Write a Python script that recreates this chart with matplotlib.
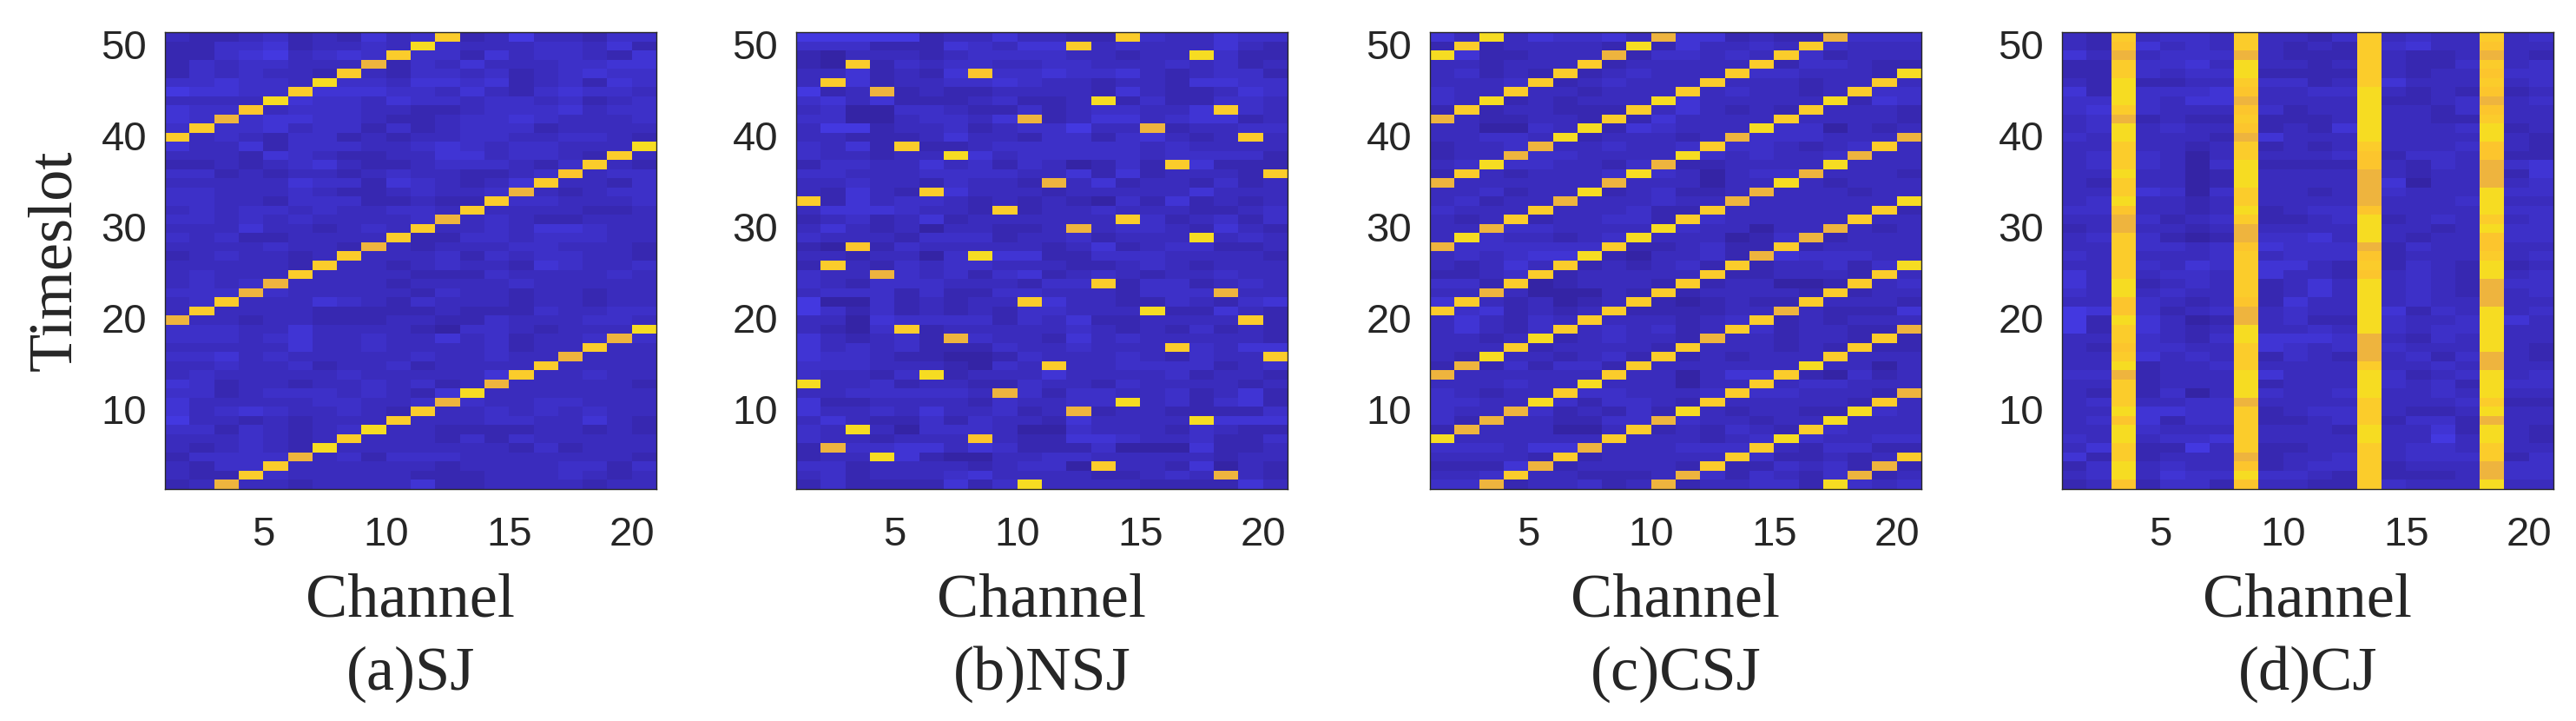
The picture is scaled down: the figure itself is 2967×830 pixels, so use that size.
import matplotlib
matplotlib.use('Agg')
import matplotlib.pyplot as plt
import numpy as np
from matplotlib.colors import LinearSegmentedColormap
from matplotlib.transforms import ScaledTranslation

# rows go top to bottom as in the picture, one char per channel
# 0-9 background level, a-d jammed cell (a orange ... d yellow)
sj_rows = [
    "32234232534c23633244", "2244523343d433344352", "224563454c4425344325", "24344333a24353334455",
    "2434332c324434234544", "445443d4435545234254", "65544c55544353245443", "3333d544354434434234",
    "544b3444332234445344", "54a45544322344543334", "4c445344242344423333", "c3432442323344334432",
    "5335244433454344333d", "333254322335534432c3", "22323453223444324c32", "4423233234332234b344",
    "333335442543235c3324", "44333432234334a32344", "4433244422322c443334", "343443433443c3333223",
    "44343433334a34322333", "3335332343c334355433", "434223333c2244344433", "33334332a32333443332",
    "2343323c333424344332", "333332c3323433254334", "34333c33332224333343", "3434a333323333433333",
    "444a4333332433233233", "34c33354324333233233", "3c333322222322243344", "a3323322233224333443",
    "4443353333214432333d", "444345334335342334a4", "33333533433334233c33", "4453433333433433a333",
    "334334233423333c3333", "34333334333335c33433", "5423323343423a333332", "442344434325d3333333",
    "53333344334a43344333", "5345433432c334343433", "633232333c3334433532", "44243234d33222233232",
    "3334323c333242433333", "323432d3333333242333", "24444a34244433333332", "3244c333333233334424",
    "322c4333332223334323", "23a33233335223333233",
]
nsj_rows = [
    "6666623353322c433544", "44422254355c34333532", "2133323444433233d422", "21c24344334433343423",
    "3352325b445445323442", "3c523344543323325544", "623a2322333325322354", "453522234223d2422443",
    "34114432242344335c43", "441134435a2355345523", "36623342344633a23344", "332223533244245323c3",
    "4352c223444444343333", "433233d5344444344442", "244335342431242c5222", "4433344443352523332c",
    "3343324332a352332423", "32532c53332333335333", "c2534432323214252323", "35554332c23343332234",
    "2342352333333c423424", "35323133223a34432532", "4333244423342333d343", "21b24333332352344223",
    "3323314d552244433332", "2c324344333223432333", "433a4342452343233433", "432444333244c2442343",
    "34442422443332444a33", "611423233c5332243245", "64242323244333d22532", "331544442435223333c2",
    "3214c233333432324232", "532342a4332534333332", "534342224334333c4355", "5443221124333432433c",
    "4443332143c334444234", "43324d23335333342332", "d3342332243324333323", "33444443a42443342352",
    "5223333243344d342452", "53343533423a23322224", "3532242433253333d555", "43d31444311433324322",
    "4332333b322554334224", "2a445535422241115223", "233d5211334433333233", "442333323441c3325132",
    "34233345333322343a32", "242222524d3333222253",
]
csj_rows = [
    "53d354453a552322a444", "2c233332d253343c4333", "d522333a244343c42333", "332333c233333c244322",
    "34232c234333c443332d", "3334c234333c333233c3", "433c332333c343323c44", "43d232333d533333d254",
    "2c233222c353232c3332", "a322332c253333c33332", "331143d254333d441323", "33443d233323a444333a",
    "2334a334334c443234c3", "233a443333d434334a33", "34d443324a223333d333", "2c323334d431344a3332",
    "a333333a333133d32333", "334233d234223a333233", "34233a333433a333333d", "4333c333422c333333c2",
    "323c233442c433333c33", "33a443333d433133a323", "3d433234d333124a2333", "a444444c223422c23333",
    "343455d213342a544433", "32353c232342c233424d", "2234c233333c223332c3", "442c123332c233112c34",
    "33a311132c233332c233", "5c323123c212322c3332", "c452323c222233a32225", "353243c333234c232333",
    "35324c343423c423322a", "3323d234332a332332c2", "333c233332c333232c22", "32d332342c232333c333",
    "2a242442c333333d3313", "a333333c331355c21423", "333433d333133c344333", "43233c443334c443332a",
    "4433d424432c333332c3", "433a423242d323322d43", "42a332244a433233d333", "2a333113c232432c4333",
    "d333333c333234d43344", "444355a333444c324422", "33332c233333c422323c", "2225a233332c224342a2",
    "334c332223a424324a23", "44a233423a233442d434",
]
cj_rows = [
    "32c3443c3324c3433c34", "32b5343c3232c4533b33", "53a3444a3222c3223a32", "22c4453d3323c3224c34",
    "22c4344d2222c3233b44", "32d2233c4423c5333c34", "52d4445b3344d3232b23", "44d4355a3333d2234a34",
    "45c4333b4233d3324b33", "34a2322c2223d3322c33", "34d3433b2325d3334d23", "43d3332a5333d3333d32",
    "33c3323c2323c3334b32", "34c4313c3334b2443b22", "34c4314d2222b3243a45", "33d3312d3333a3233a25",
    "32c3312d3333a5133a34", "33c5414c3323a4333d44", "34d3323c3333a3334d33", "44b3323d2344b3333d44",
    "33a4234c2234d2343c34", "23a3323a3333d3323d44", "34c4212a4453d3233b44", "33c4434b5444a2433b33",
    "43c3334c3444b2333c34", "33c4354c5532c2432d23", "53c3443c5332b3432d34", "53d2343c2353d3432a44",
    "43d3433c2353d3432a34", "33b4323b2533d3433a33", "65b4234a3433d5243d34", "62d5312a3422d4334d53",
    "62c5323d3343d4344d33", "33c4324d5554a3243d33", "32b4433c5434a4333d32", "33c5343c2432a3424a32",
    "33d2334c3333c3343a33", "44a2333d5333d4234d34", "33c2333d2333d4342d44", "32c2413d4334d3343d33",
    "34c3344a3333c3334c22", "33d5544c2344c3223d33", "34b5244c2234c2442a33", "33d4333c3332d3352d32",
    "43d3445c3333d3363d32", "35c2263c2233c3443c33", "52c2333a2334c3444c24", "24d3433b2344c2333a44",
    "34d3544d4432c2223a44", "23b2442b3322c4333d33",
]

panels = [sj_rows, nsj_rows, csj_rows, cj_rows]
captions = ['(a)SJ', '(b)NSJ', '(c)CSJ', '(d)CJ']
x_ticks = [5, 10, 15, 20]
y_ticks = [10, 20, 30, 40, 50]

W, H = 2967, 830
lefts = [190, 917, 1647, 2375]
ax_w = 566
ax_top = 37
ax_bottom = 563
text_color = '#262626'

chars = '0123456789abcd'
top = len(chars) - 1
cmap = LinearSegmentedColormap.from_list('parula_ish', [
    (0.0, '#31209a'),
    (6 / top, '#4338e0'),
    (9.9 / top, '#4338e0'),
    (10 / top, '#fdbf30'),
    (12 / top, '#fbcb2b'),
    (1.0, '#f6dc22'),
])


def to_matrix(rows):
    m = np.array([[chars.index(c) for c in r] for r in rows], dtype=float)
    return m[::-1]


fig = plt.figure(figsize=(W / 100, H / 100), dpi=100)
for i in range(4):
    ax = fig.add_axes([lefts[i] / W, 1 - ax_bottom / H, ax_w / W, (ax_bottom - ax_top) / H])
    ax.pcolormesh(np.arange(1, 22), np.arange(1, 52), to_matrix(panels[i]), cmap=cmap, vmin=0, vmax=top)
    ax.set_xlim(1, 21)
    ax.set_ylim(1, 51)
    ax.set_xticks(x_ticks)
    ax.set_yticks(y_ticks)
    ax.tick_params(length=0, labelsize=34, labelcolor=text_color)
    ax.tick_params(axis='x', pad=22)
    ax.tick_params(axis='y', pad=15)
    for lab in ax.get_xticklabels() + ax.get_yticklabels():
        lab.set_family('Liberation Sans')
    # labels sit a little under their tick in the original
    shift = ScaledTranslation(0, -3 / 100, fig.dpi_scale_trans)
    for lab in ax.get_yticklabels():
        lab.set_transform(lab.get_transform() + shift)
    for s in ax.spines.values():
        s.set_linewidth(1.0)
        s.set_color(text_color)
    cx = (lefts[i] + ax_w / 2) / W
    fig.text(cx, 1 - 709 / H, 'Channel', ha='center', va='baseline', family='Liberation Serif',
             fontsize=52, color=text_color)
    fig.text(cx, 1 - 794 / H, captions[i], ha='center', va='baseline', family='Liberation Serif',
             fontsize=52, color=text_color)

fig.text(81 / W, 1 - 300 / H, 'Timeslot', rotation=90, ha='center', va='baseline', rotation_mode='anchor',
         family='Liberation Serif', fontsize=52, color=text_color)

fig.savefig('out.png', dpi=100, facecolor='white')
